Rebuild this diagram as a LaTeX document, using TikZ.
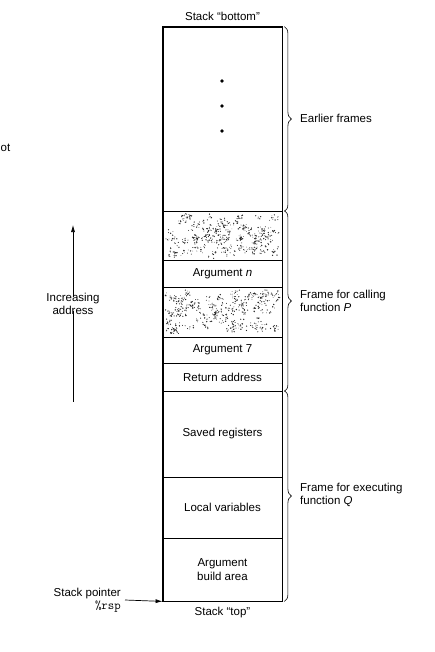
\documentclass[tikz,border=0pt]{standalone}
\usepackage{fontspec}
\setmainfont{Liberation Sans}
\usetikzlibrary{arrows.meta, positioning, calc, decorations.pathreplacing}

\begin{document}
\begin{tikzpicture}[x=1pt, y=-1pt,
  slot/.style={draw, line width=0.8pt, minimum width=119pt, inner sep=0pt, align=center, font=\fontsize{11.5}{13.5}\selectfont},
  lbl/.style={inner sep=0pt, align=left, font=\fontsize{11.5}{13.5}\selectfont},
  framebrace/.style={decorate, decoration={brace, amplitude=7pt, aspect=0.5}, line width=0.6pt}]
  \useasboundingbox (0,0) rectangle (435,652);

  % Stack slots, from the bottom of the stack down to its top
  \node[slot, minimum height=184pt] (earlier) at (222.5,119) {};
  \node[slot, minimum height=49pt] (hatchA) at (222.5,235.5) {};
  \node[slot, minimum height=27pt] (argn) at (222.5,273.5) {Argument \textit{n}};
  \node[slot, minimum height=50pt] (hatchB) at (222.5,312) {};
  \node[slot, minimum height=26pt] (argseven) at (222.5,350) {Argument 7};
  \node[slot, minimum height=28pt] (retaddr) at (222.5,377) {Return address};
  \node[slot, minimum height=86pt] (saved) at (222.5,434) {Saved registers};
  \node[slot, minimum height=61pt] (locals) at (222.5,507.5) {Local variables};
  \node[slot, minimum height=63pt] (build) at (222.5,569.5) {Argument\\build area};
  \draw[line width=1.3pt] (earlier.north west) rectangle (build.south east);

  % Ellipsis and stippled fill
  \foreach \yy in {81,106,131}
    \fill (222,\yy) circle (1.8pt);
  \pgfmathsetseed{42}
  \foreach \hs in {hatchA, hatchB} {
    \foreach \i in {1,...,110} {
      \coordinate (clump) at ($(\hs.center)+({55*rand},{20*rand})$);
      \foreach \j in {1,...,5}
        \fill[black!85] ($(clump)+({3*rand},{3*rand})$) circle ({0.35pt+0.4pt*rnd});
    }
  }

  % Ends of the stack
  \node[lbl, anchor=south] (bottomlbl) at ([yshift=6pt]earlier.north) {Stack ``bottom''};
  \node[lbl, anchor=north] (toplbl) at ([yshift=-6pt]build.south) {Stack ``top''};

  % Frames
  \draw[framebrace] ([xshift=2pt]earlier.north east) -- ([xshift=2pt]earlier.south east);
  \draw[framebrace] ([xshift=2pt]hatchA.north east) -- ([xshift=2pt]retaddr.south east);
  \draw[framebrace] ([xshift=2pt]saved.north east) -- ([xshift=2pt]build.south east);
  \node[lbl, anchor=west] (earlierlbl) at (300,118) {Earlier frames};
  \node[lbl, anchor=west] (calllbl) at (300,301) {Frame for calling\\function \textit{P}};
  \node[lbl, anchor=west] (execlbl) at (300,495) {Frame for executing\\function \textit{Q}};

  % Address direction
  \node[lbl, align=center] (addr) at (73,304) {Increasing\\address};
  \coordinate (uptip) at (73,225);
  \coordinate (upfoot) at (73,402);
  \draw[line width=0.7pt, -{Latex[length=7pt, width=4pt]}] (addr.north) ++(0,-4pt) -- (uptip);
  \draw[line width=0.7pt] (addr.south) ++(0,4pt) -- (upfoot);

  % Stack pointer
  \node[lbl, align=right, anchor=east] (sp) at (121,600) {Stack pointer\\{\fontsize{12.5}{13.5}\selectfont\ttfamily\%rsp}};
  \draw[line width=0.7pt, -{Latex[length=7pt, width=4pt]}] ([xshift=4pt]sp.east) -- (build.south west);

  % Text at the left edge
  \node[lbl, anchor=west] (cutoff) at (0.5,148) {ot};
\end{tikzpicture}
\end{document}
